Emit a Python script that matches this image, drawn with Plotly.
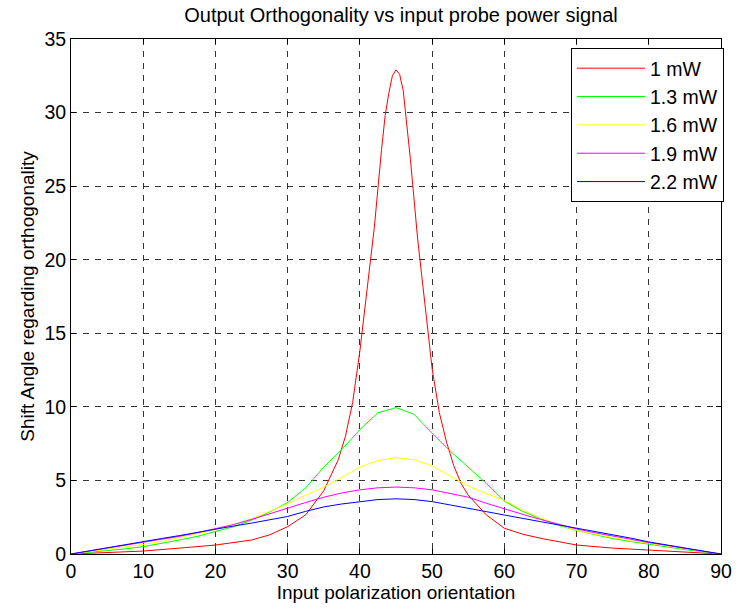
import plotly.graph_objects as go

# ---- data ----
red_x = [0, 5, 10, 15, 20, 25, 27.5, 30, 32.5, 35, 36, 37, 38, 39, 40, 41, 42, 43, 43.5, 44,
         44.5, 45, 45.5, 46, 46.5, 47, 48, 49, 50, 51, 52, 53, 54, 55, 57.5, 60, 62.5, 65, 70,
         75, 80, 85, 90]
red_y = [0, 0.1, 0.2, 0.4, 0.61, 0.95, 1.3, 1.86, 2.66, 4.3, 5.3, 6.4, 8.0, 10.3, 13.8, 17.8,
         22.2, 27.5, 29.8, 31.3, 32.5, 32.9, 32.6, 31.5, 29.3, 26.8, 21.4, 16.8, 12.6, 9.6, 7.6,
         6.0, 4.8, 4.0, 2.66, 1.75, 1.35, 1.07, 0.61, 0.4, 0.25, 0.1, 0]

x_grid = [0, 2.5, 5, 7.5, 10, 12.5, 15, 17.5, 20, 22.5, 25, 27.5, 30, 32.5, 35, 37.5, 40, 42.5,
          45, 47.5, 50, 52.5, 55, 57.5, 60, 62.5, 65, 67.5, 70, 72.5, 75, 77.5, 80, 82.5, 85,
          87.5, 90]
green_y = [0, 0.1, 0.2, 0.35, 0.5, 0.7, 0.95, 1.2, 1.5, 1.85, 2.3, 2.85, 3.5, 4.5, 5.9, 7.1,
           8.45, 9.6, 9.95, 9.5, 8.2, 7.0, 5.9, 4.8, 3.6, 2.9, 2.4, 1.95, 1.6, 1.3, 1.05, 0.85,
           0.65, 0.45, 0.3, 0.15, 0]
yellow_y = [0, 0.15, 0.3, 0.48, 0.65, 0.85, 1.1, 1.35, 1.65, 2.0, 2.4, 2.9, 3.4, 4.0, 4.55,
            5.2, 5.9, 6.35, 6.55, 6.4, 6.0, 5.3, 4.63, 4.1, 3.65, 3.0, 2.45, 2.0, 1.6, 1.35,
            1.1, 0.9, 0.73, 0.55, 0.35, 0.17, 0]
magenta_y = [0, 0.2, 0.38, 0.58, 0.78, 0.98, 1.2, 1.45, 1.72, 2.0, 2.35, 2.75, 3.1, 3.5, 3.86,
             4.15, 4.36, 4.5, 4.55, 4.5, 4.36, 4.1, 3.86, 3.45, 3.05, 2.7, 2.35, 2.0, 1.7,
             1.45, 1.2, 1.0, 0.78, 0.58, 0.4, 0.2, 0]
blue_y = [0, 0.22, 0.42, 0.62, 0.83, 1.05, 1.25, 1.48, 1.7, 1.9, 2.1, 2.32, 2.55, 2.9, 3.2,
          3.4, 3.56, 3.7, 3.75, 3.7, 3.56, 3.35, 3.1, 2.88, 2.65, 2.4, 2.2, 1.98, 1.76, 1.55,
          1.32, 1.08, 0.82, 0.6, 0.4, 0.2, 0]

labels = ["1 mW", "1.3 mW", "1.6 mW", "1.9 mW", "2.2 mW"]
colors = ["#ff0000", "#00ff00", "#ffff00", "#ff00ff", "#0000ff"]
x_ticks = [0, 10, 20, 30, 40, 50, 60, 70, 80, 90]
y_ticks = [0, 5, 10, 15, 20, 25, 30, 35]

series = [(red_x, red_y), (x_grid, green_y), (x_grid, yellow_y), (x_grid, magenta_y), (x_grid, blue_y)]

fig = go.Figure()
for (xs, ys), name, col in zip(series, labels, colors):
    fig.add_trace(go.Scatter(x=xs, y=ys, mode="lines", name=name,
                             line=dict(color=col, width=1)))

FONT = "Liberation Sans, Arial, sans-serif"
axis_common = dict(
    showline=True, linecolor="black", linewidth=1, mirror="allticks",
    ticks="inside", ticklen=5, tickcolor="black",
    showgrid=True, gridcolor="#333333", gridwidth=1, griddash="6px,6px",
    zeroline=False, tickfont=dict(family=FONT, size=19.5, color="black"),
)

fig.update_layout(
    width=744, height=614,
    margin=dict(l=71, r=13, t=39, b=60),
    paper_bgcolor="white", plot_bgcolor="white",
    font=dict(family=FONT, color="black"),
    title=dict(text="Output Orthogonality vs input probe power signal",
               x=(71 + 731) / 2 / 744, xanchor="center", y=1 - 15 / 614, yanchor="middle",
               font=dict(family=FONT, size=20, color="black")),
    xaxis=dict(range=[0, 90], tickvals=x_ticks,
               title=dict(text="Input polarization orientation", standoff=2,
                          font=dict(family=FONT, size=19, color="black")),
               **axis_common),
    yaxis=dict(range=[0, 35], tickvals=y_ticks,
               title=dict(text="Shift Angle regarding orthogonality", standoff=4,
                          font=dict(family=FONT, size=19, color="black")),
               **axis_common),
    legend=dict(x=(734 - 71) / 660, xanchor="right", y=(554 - 48) / 515, yanchor="top",
                bgcolor="white", bordercolor="black", borderwidth=1,
                font=dict(family=FONT, size=19.5, color="black"),
                itemwidth=68),
    showlegend=True,
)

fig.write_html("out.html")
